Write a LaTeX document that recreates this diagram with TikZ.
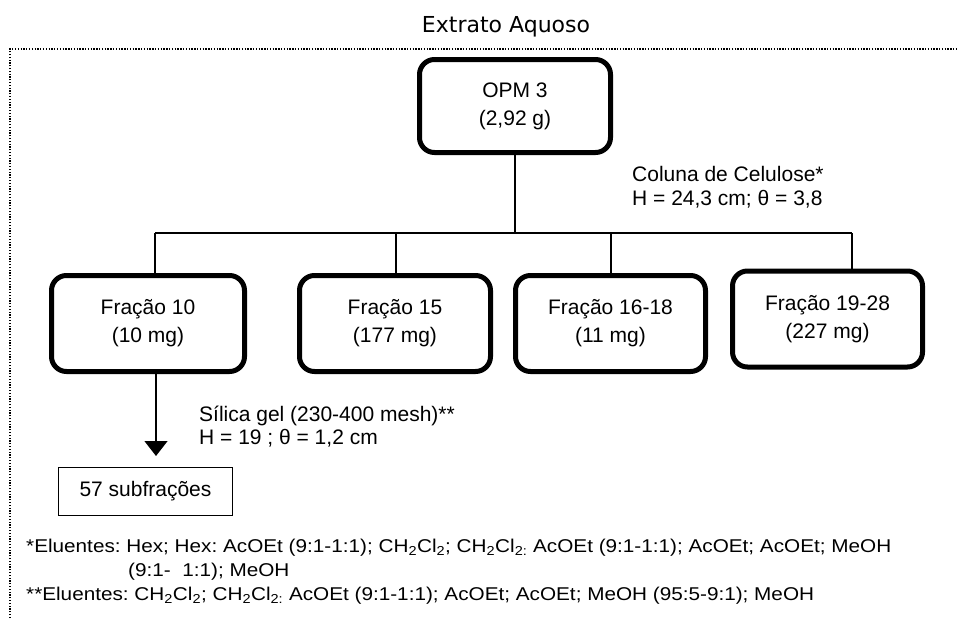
\documentclass[tikz,border=0pt]{standalone}
\usepackage{fontspec}
\setmainfont{Liberation Sans}
\newfontfamily\titlefont{DejaVu Sans}
\newfontfamily\footfont[FakeStretch=1.12]{Liberation Sans}
\frenchspacing
\usetikzlibrary{arrows.meta}
\tikzset{
  fbox/.style={draw, line width=5pt, rounded corners=15pt, align=center,
    minimum width=191pt, minimum height=96pt, inner sep=0pt,
    font=\fontsize{21}{28}\selectfont},
  thin/.style={line width=1.2pt},
  lbl/.style={anchor=base west, inner sep=0pt, font=\fontsize{21}{24}\selectfont},
  foot/.style={anchor=base west, inner sep=0pt, font=\footfont\fontsize{18.5}{20}\selectfont},
  frame/.style={line width=1.3pt, dash pattern=on 1.3pt off 1.5pt}
}
\begin{document}
\begin{tikzpicture}[x=1pt,y=-1pt]
\useasboundingbox (0,0) rectangle (957,618);
% title and frame
\node[anchor=base, inner sep=0pt, font=\titlefont\fontsize{22}{26}\selectfont] (title) at (506,33) {Extrato Aquoso};
\draw[frame] (10,618) -- (10,49) -- (957,49);
% nodes
\node[fbox, minimum height=93pt] (opm) at (515,106) {OPM 3\\(2,92 g)};
\node[fbox, minimum width=193pt] (f10) at (148,323.5) {Fração 10\\(10 mg)};
\node[fbox] (f15) at (395,323.5) {Fração 15\\(177 mg)};
\node[fbox, minimum width=190pt] (f16) at (610.5,323.5) {Fração 16-18\\(11 mg)};
\node[fbox, minimum width=190pt] (f19) at (827.5,319) {Fração 19-28\\(227 mg)};
\node[draw, thin, minimum width=174pt, minimum height=48pt, inner sep=0pt,
      font=\fontsize{21}{26}\selectfont] (sub) at (145.5,491.5) {57 subfrações};
% connectors
\coordinate (hl) at (515,233);
\coordinate (j1) at (155,233);
\coordinate (j2) at (396,233);
\coordinate (j3) at (611,233);
\coordinate (j4) at (852,233);
\draw[thin] (opm.south) -- (hl);
\draw[thin] (j1) -- (j4);
\draw[thin] (j1) -- (j1 |- f10.north);
\draw[thin] (j2) -- (j2 |- f15.north);
\draw[thin] (j3) -- (j3 |- f16.north);
\draw[thin] (j4) -- ([yshift=-4pt]j4 |- f19.north);
\coordinate (a1) at (156,374);
\coordinate (a2) at (156,456);
\draw[thin, -{Triangle[width=23pt,length=15pt]}] (a1 |- f10.south) -- (a2);
% labels
\node[lbl] (c1) at (632,181) {Coluna de Celulose*};
\node[lbl] (c2) at (632,205) {H = 24,3 cm; θ = 3,8};
\node[lbl] (s1) at (199,421) {Sílica gel (230-400 mesh)**};
\node[lbl] (s2) at (199,444) {H = 19 ; θ = 1,2 cm};
% footnotes
\node[foot] (n1) at (26,552) {*Eluentes: Hex; Hex: AcOEt (9:1-1:1); CH\textsubscript{2}Cl\textsubscript{2}; CH\textsubscript{2}Cl\textsubscript{2:} AcOEt (9:1-1:1); AcOEt; AcOEt; MeOH};
\node[foot] (n2) at (128,576) {(9:1-\ \ 1:1); MeOH};
\node[foot] (n3) at (26,600) {**Eluentes: CH\textsubscript{2}Cl\textsubscript{2}; CH\textsubscript{2}Cl\textsubscript{2:} AcOEt (9:1-1:1); AcOEt; AcOEt; MeOH (95:5-9:1); MeOH};
\end{tikzpicture}
\end{document}
